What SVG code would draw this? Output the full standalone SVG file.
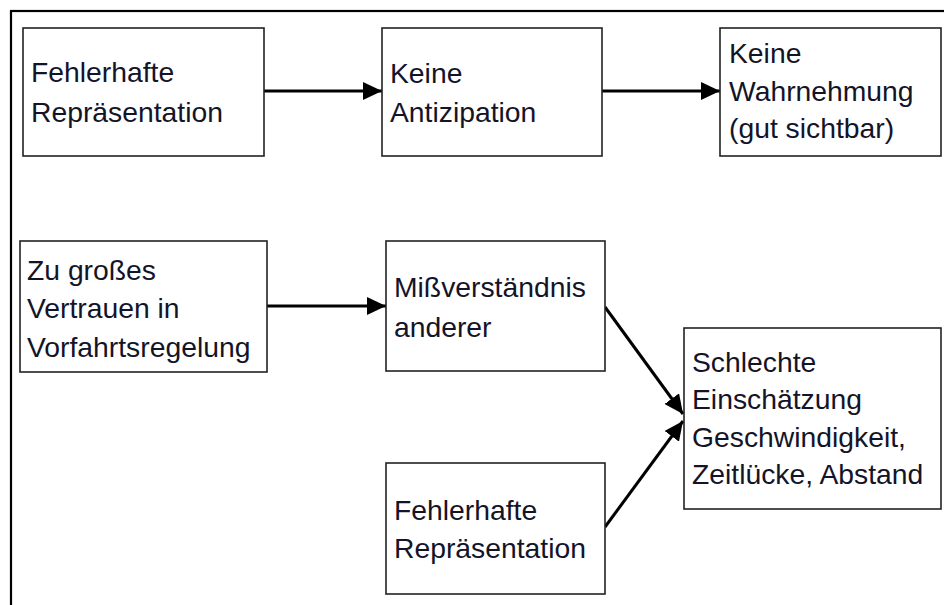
<svg xmlns="http://www.w3.org/2000/svg" width="944" height="605" viewBox="0 0 944 605">
<style>
.frame{fill:none;stroke:#000;stroke-width:2.2}
.box{fill:#fff;stroke:#222;stroke-width:1.6}
.lbl{font-family:"Liberation Sans",Arial,sans-serif;font-size:28.3px;fill:#141428}
.conn{stroke:#000;stroke-width:3;fill:none;marker-end:url(#ah)}
</style>
<defs>
<marker id="ah" markerUnits="userSpaceOnUse" markerWidth="20" markerHeight="18" refX="19" refY="9" orient="auto">
<path d="M0,0 L19,9 L0,18 z" fill="#000"/>
</marker>
</defs>
<rect width="944" height="605" fill="#fff"/>
<rect class="frame" x="11" y="11" width="1000" height="700"/>
<g id="connectors">
<line class="conn" x1="263" y1="91" x2="382" y2="91"/>
<line class="conn" x1="601" y1="91" x2="720" y2="91"/>
<line class="conn" x1="266" y1="306" x2="386" y2="306"/>
<line class="conn" x1="605" y1="307" x2="683" y2="414"/>
<line class="conn" x1="605" y1="527" x2="683" y2="421"/>
</g>
<g id="n1">
<rect class="box" x="23" y="28" width="241" height="128"/>
<text class="lbl" x="31" y="82">Fehlerhafte</text>
<text class="lbl" x="31" y="122">Repräsentation</text>
</g>
<g id="n2">
<rect class="box" x="382" y="28" width="220" height="128"/>
<text class="lbl" x="390" y="83">Keine</text>
<text class="lbl" x="390" y="122">Antizipation</text>
</g>
<g id="n3">
<rect class="box" x="720" y="28" width="221" height="128"/>
<text class="lbl" x="729" y="63">Keine</text>
<text class="lbl" x="729" y="101">Wahrnehmung</text>
<text class="lbl" x="729" y="138">(gut sichtbar)</text>
</g>
<g id="n4">
<rect class="box" x="20" y="241" width="247" height="131"/>
<text class="lbl" x="27" y="280">Zu großes</text>
<text class="lbl" x="27" y="318">Vertrauen in</text>
<text class="lbl" x="27" y="357">Vorfahrtsregelung</text>
</g>
<g id="n5">
<rect class="box" x="386" y="241" width="219" height="130"/>
<text class="lbl" x="394" y="297">Mißverständnis</text>
<text class="lbl" x="394" y="337">anderer</text>
</g>
<g id="n6">
<rect class="box" x="684" y="328" width="257" height="181"/>
<text class="lbl" x="692" y="372">Schlechte</text>
<text class="lbl" x="692" y="409">Einschätzung</text>
<text class="lbl" x="692" y="447">Geschwindigkeit,</text>
<text class="lbl" x="692" y="484">Zeitlücke, Abstand</text>
</g>
<g id="n7">
<rect class="box" x="386" y="463" width="219" height="131"/>
<text class="lbl" x="394" y="520">Fehlerhafte</text>
<text class="lbl" x="394" y="558">Repräsentation</text>
</g>
</svg>
